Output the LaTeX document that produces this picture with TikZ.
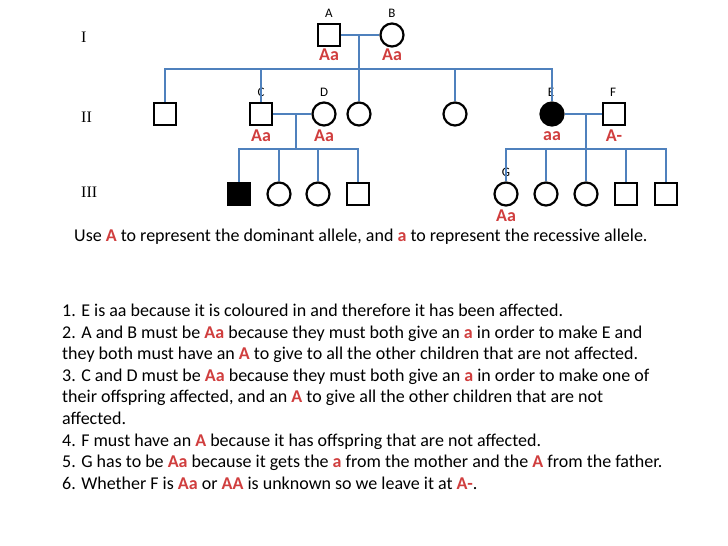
\documentclass[tikz,border=0pt]{standalone}
\usepackage{fontspec}
\setmainfont{Carlito}
\newfontfamily\romanfont{Liberation Serif}
\definecolor{wred}{RGB}{208,62,62}
\definecolor{lblue}{RGB}{79,129,189}
\newcommand{\Ra}[1]{{\color{wred}\bfseries #1}}
\begin{document}
\begin{tikzpicture}[x=1pt,y=-1pt,
  male/.style={draw=black,line width=2.2pt,minimum size=22pt,inner sep=0pt,rectangle},
  female/.style={draw=black,line width=2.2pt,minimum size=23pt,inner sep=0pt,circle},
  aff/.style={fill=black},
  link/.style={draw=lblue,line width=1.1pt},
  lab/.style={font=\fontsize{13}{13}\selectfont,inner sep=0pt},
  geno/.style={font=\fontsize{18}{18}\selectfont\bfseries,text=wred,inner sep=0pt},
  gen/.style={font=\romanfont\fontsize{16}{16}\selectfont,inner sep=0pt,anchor=west},
  txt/.style={font=\fontsize{18}{18}\selectfont,inner sep=0pt,anchor=base west}
]
\useasboundingbox (0,0) rectangle (728,546);

% generation labels
\node[gen] (gI) at (81,37) {I};
\node[gen] (gII) at (81,117) {II};
\node[gen] (gIII) at (81,192) {III};

% generation I
\node[male] (A) at (329,35) {};
\node[female] (B) at (392,35) {};
\node[lab] (lA) at (329,13) {A};
\node[lab] (lB) at (392,13) {B};
\node[geno] (gA) at (329,55) {Aa};
\node[geno] (gB) at (392,55) {Aa};

% generation II
\node[male] (ii1) at (165,114) {};
\node[male] (C) at (261,114) {};
\node[female] (D) at (324,114) {};
\node[female] (ii4) at (359,114) {};
\node[female] (ii5) at (455,114) {};
\node[female,aff] (E) at (552,114) {};
\node[male] (F) at (614,114) {};
\node[lab] (lC) at (261,92) {C};
\node[lab] (lD) at (324,92) {D};
\node[lab] (lE) at (551,92) {E};
\node[lab] (lF) at (613,92) {F};
\node[geno] (gC) at (261,136) {Aa};
\node[geno] (gD) at (324,136) {Aa};
\node[geno] (gE) at (552,136) {aa};
\node[geno] (gF) at (614,136) {A-};

% generation III
\node[male,aff] (k1) at (239,194) {};
\node[female] (k2) at (279,194) {};
\node[female] (k3) at (318,194) {};
\node[male] (k4) at (358,194) {};
\node[female] (G) at (506,194) {};
\node[female] (k6) at (546,194) {};
\node[female] (k7) at (586,194) {};
\node[male] (k8) at (626,194) {};
\node[male] (k9) at (666,194) {};
\node[lab] (lG) at (506,172) {G};
\node[geno] (gG) at (506,216) {Aa};

% connectors
\coordinate (ab) at (359,35);
\coordinate (s2) at (359,69);
\coordinate (cd) at (296,114);
\coordinate (s3a) at (296,149);
\coordinate (ef) at (586,114);
\coordinate (s3b) at (586,149);

\draw[link] (A.east) -- (B.west);
\draw[link] (ab) -- (ii4.north);
\draw[link] (ii1.north) -- (ii1.north |- s2) -- (E.north |- s2) -- (E.north);
\draw[link] (C.north) -- (C.north |- s2);
\draw[link] (ii5.north) -- (ii5.north |- s2);

\draw[link] (C.east) -- (D.west);
\draw[link] (cd) -- (s3a);
\draw[link] (k1.north) -- (k1.north |- s3a) -- (k4.north |- s3a) -- (k4.north);
\draw[link] (k2.north) -- (k2.north |- s3a);
\draw[link] (k3.north) -- (k3.north |- s3a);

\draw[link] (E.east) -- (F.west);
\draw[link] (ef) -- (s3b);
\draw[link] (G.north) -- (G.north |- s3b) -- (k9.north |- s3b) -- (k9.north);
\draw[link] (k6.north) -- (k6.north |- s3b);
\draw[link] (k7.north) -- (k7.north |- s3b);
\draw[link] (k8.north) -- (k8.north |- s3b);

% legend
\node[txt] (leg) at (74,241.7) {Use \Ra{A} to represent the dominant allele, and \Ra{a} to represent the recessive allele.};

% explanation
\node[txt] (t1) at (62,316.5) {1. E is aa because it is coloured in and therefore it has been affected.};
\node[txt] (t2) at (62,338.1) {2. A and B must be \Ra{Aa} because they must both give an \Ra{a} in order to make E and};
\node[txt] (t3) at (62,359.7) {they both must have an \Ra{A} to give to all the other children that are not affected.};
\node[txt] (t4) at (62,381.3) {3. C and D must be \Ra{Aa} because they must both give an \Ra{a} in order to make one of};
\node[txt] (t5) at (62,402.9) {their offspring affected, and an \Ra{A} to give all the other children that are not};
\node[txt] (t6) at (62,424.5) {affected.};
\node[txt] (t7) at (62,446.1) {4. F must have an \Ra{A} because it has offspring that are not affected.};
\node[txt] (t8) at (62,467.7) {5. G has to be \Ra{Aa} because it gets the \Ra{a} from the mother and the \Ra{A} from the father.};
\node[txt] (t9) at (62,489.3) {6. Whether F is \Ra{Aa} or \Ra{AA} is unknown so we leave it at \Ra{A-}.};
\end{tikzpicture}
\end{document}
